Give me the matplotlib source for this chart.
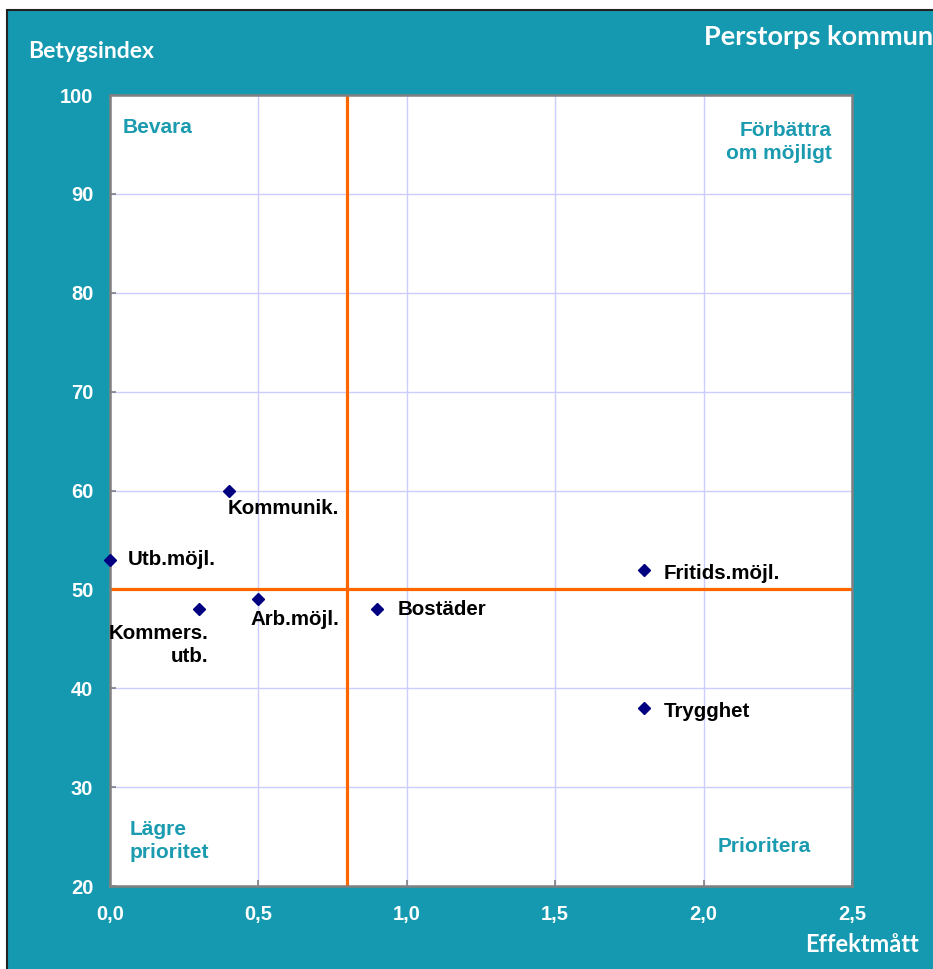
import matplotlib
matplotlib.use("Agg")
import matplotlib.pyplot as plt
from matplotlib.patches import Rectangle
from matplotlib.ticker import FuncFormatter

# ---- data ----
labels = ["Kommunik.", "Utb.möjl.", "Kommers.\nutb.", "Arb.möjl.", "Bostäder", "Fritids.möjl.", "Trygghet"]
effekt = [0.4, 0.0, 0.3, 0.5, 0.9, 1.8, 1.8]
betyg = [60, 53, 48, 49, 48, 52, 38]
x_ticks = [0.0, 0.5, 1.0, 1.5, 2.0, 2.5]
y_ticks = [20, 30, 40, 50, 60, 70, 80, 90, 100]
x_split = 0.8
y_split = 50
quadrants = ["Bevara", "Förbättra\nom möjligt", "Lägre\nprioritet", "Prioritera"]
title = "Perstorps kommun"
ylabel = "Betygsindex"
xlabel = "Effektmått"

# label offsets in pixels (dx, dy) and alignment
offsets = [(-1, -18, "left", "center"), (18, 0, "left", "center"), (9, -15, "right", "top"),
           (-8, -20, "left", "center"), (21, 0, "left", "center"), (19, -4, "left", "center"),
           (20, -3, "left", "center")]

TEAL = "#1499B0"
W, H = 933, 969
fig = plt.figure(figsize=(W / 100, H / 100), dpi=100)
fig.patch.set_facecolor("white")
# teal panel
fig.patches.append(Rectangle((7 / W, -0.01), 1.0, 1 - 10 / H + 0.01, transform=fig.transFigure,
                             facecolor=TEAL, edgecolor="#222222", linewidth=1.5, zorder=-5))

L, R, T, B = 110, 852, 95, 886
ax = fig.add_axes([L / W, 1 - B / H, (R - L) / W, (B - T) / H])
ax.set_zorder(2)
ax.set_facecolor("white")
ax.set_xlim(0, 2.5)
ax.set_ylim(20, 100)
ax.set_xticks(x_ticks)
ax.set_yticks(y_ticks)
ax.grid(True, color="#CCCCFF", linewidth=1.0, zorder=0)
ax.set_axisbelow(True)
for s in ax.spines.values():
    s.set_color("#808080")
    s.set_linewidth(1.8)
ax.tick_params(direction="in", length=4, color="#808080", width=1.2)
ax.tick_params(axis="y", pad=12)
ax.tick_params(axis="x", pad=14)
ax.xaxis.set_major_formatter(FuncFormatter(lambda v, p: f"{v:.1f}".replace(".", ",")))
tickfont = dict(family=["Liberation Sans", "DejaVu Sans"], weight="bold", size=14.5)
for lab in ax.get_xticklabels() + ax.get_yticklabels():
    lab.set_fontproperties(matplotlib.font_manager.FontProperties(**tickfont))
    lab.set_color("white")

ax.axvline(x_split, color="#FF6600", linewidth=2.3, zorder=2)
ax.axhline(y_split, color="#FF6600", linewidth=2.3, zorder=2)

ax.plot(effekt, betyg, linestyle="none", marker="D", markersize=6, color="#000080",
        markeredgecolor="#000080", zorder=4, clip_on=False)

lblfont = dict(family=["Liberation Sans", "DejaVu Sans"], weight="bold", size=14.8, color="black")
for lab, x, y, (dx, dy, ha, va) in zip(labels, effekt, betyg, offsets):
    ax.annotate(lab, (x, y), xytext=(dx * 0.72, dy * 0.72), textcoords="offset points",
                ha=ha, va=va, multialignment=ha,
                linespacing=1.25, zorder=5, **lblfont)

qfont = dict(family=["Liberation Sans", "DejaVu Sans"], weight="bold", size=15, color="#1A9BB0")
aw, ah = R - L, B - T
ax.text(13 / aw, 1 - 32 / ah, quadrants[0], transform=ax.transAxes, ha="left", va="center", **qfont)
ax.text(1 - 20 / aw, 1 - 26 / ah, quadrants[1], transform=ax.transAxes, ha="right", va="top",
        multialignment="right", linespacing=1.25, **qfont)
ax.text(20 / aw, 1 - 746 / ah, quadrants[2], transform=ax.transAxes, ha="left", va="center",
        multialignment="left", linespacing=1.25, **qfont)
ax.text(608 / aw, 1 - 751 / ah, quadrants[3], transform=ax.transAxes, ha="left", va="center", **qfont)

hfont = dict(family=["Lato", "DejaVu Sans"], weight="bold", color="white")
fig.text(28 / W, 1 - 52 / H, ylabel, ha="left", va="center", size=16.5, **hfont)
fig.text(704 / W, 1 - 37 / H, title, ha="left", va="center", size=19.5, **hfont)
fig.text(919 / W, 1 - 945 / H, xlabel, ha="right", va="center", size=17, **hfont)

fig.savefig("out.png", dpi=100, facecolor=fig.get_facecolor())
